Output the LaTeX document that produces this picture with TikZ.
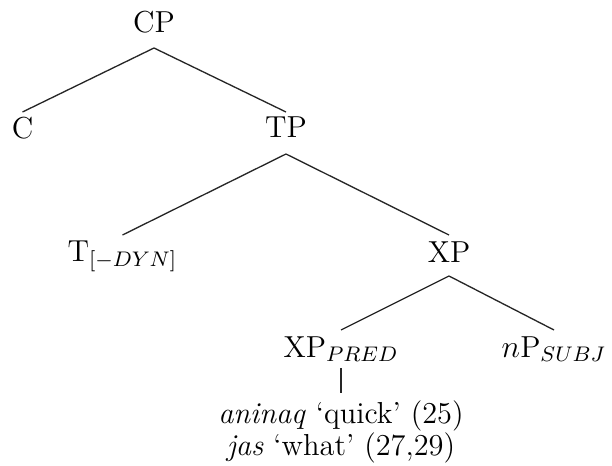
\documentclass[tikz,border=0pt]{standalone}
\begin{document}
\begin{tikzpicture}[x=0.3788pt,y=-0.3788pt,
  font=\fontsize{11.5}{12.1}\selectfont,
  lab/.style={inner sep=0pt,anchor=base},
  branch/.style={line width=0.5pt,black!85}]
\useasboundingbox (0,0) rectangle (612,466);
\node[lab] (CP) at (154,33) {CP};
\node[lab] (C) at (22.5,139) {C};
\node[lab] (TP) at (286,138) {TP};
\node[lab] (T) at (122.5,262) {T$_{[-DYN]}$};
\node[lab] (XP) at (449,263) {XP};
\node[lab] (XPp) at (341,357) {XP$_{PRED}$};
\node[lab] (nP) at (554,357) {$n$P$_{SUBJ}$};
\node[lab,align=center] (lex) at (341,455) {\textit{aninaq} `quick' (25)\\ \textit{jas} `what' (27,29)};
\draw[branch] ([shift={(0,15)}]CP.base) -- ([shift={(0,-27)}]C.base);
\draw[branch] ([shift={(0,15)}]CP.base) -- ([shift={(0,-26)}]TP.base);
\draw[branch] ([shift={(0,16)}]TP.base) -- ([shift={(0,-27)}]T.base);
\draw[branch] ([shift={(0,16)}]TP.base) -- ([shift={(0,-28)}]XP.base);
\draw[branch] ([shift={(0,13)}]XP.base) -- ([shift={(0,-27)}]XPp.base);
\draw[branch] ([shift={(0,13)}]XP.base) -- ([shift={(0,-27)}]nP.base);
\draw[branch] ([shift={(0,11)}]XPp.base) -- ([shift={(0,-62)}]lex.base);
\end{tikzpicture}
\end{document}
